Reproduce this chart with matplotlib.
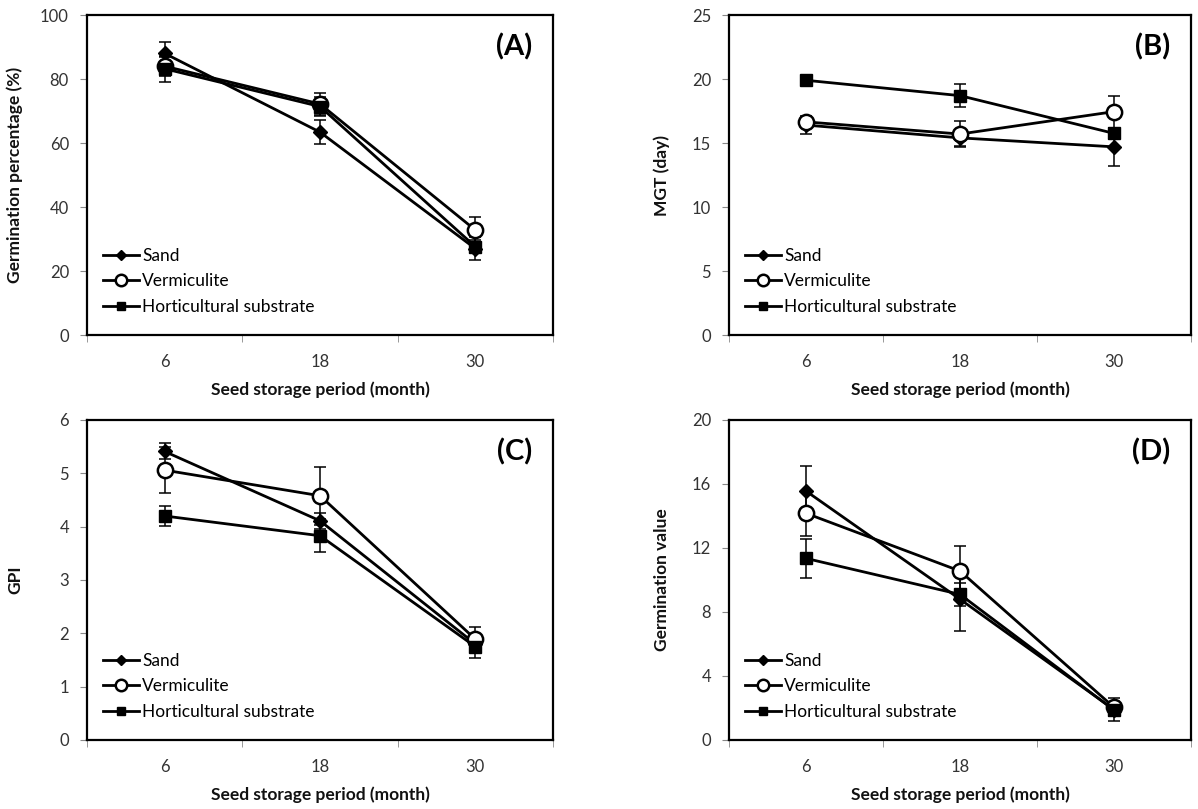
import matplotlib
matplotlib.use("Agg")
import matplotlib.pyplot as plt
import numpy as np

plt.rcParams['font.family'] = ['Lato', 'DejaVu Sans']

categories = ["6", "18", "30"]
series = ["Sand", "Vermiculite", "Horticultural substrate"]

# Panel A: Germination percentage (%)
gp_sand = [88.0, 63.4, 27.0]
gp_verm = [84.0, 72.2, 32.8]
gp_hort = [83.2, 71.4, 27.6]
gp_sand_err = [3.5, 3.8, 3.6]
gp_verm_err = [3.0, 3.4, 4.2]
gp_hort_err = [4.0, 3.0, 2.0]

# Panel B: MGT (day)
mgt_sand = [16.4, 15.4, 14.7]
mgt_verm = [16.65, 15.7, 17.45]
mgt_hort = [19.9, 18.7, 15.75]
mgt_sand_err = [0.7, 0.6, 1.5]
mgt_verm_err = [0.3, 1.0, 1.25]
mgt_hort_err = [0.2, 0.9, 0.4]

# Panel C: GPI
gpi_sand = [5.41, 4.11, 1.80]
gpi_verm = [5.06, 4.58, 1.89]
gpi_hort = [4.20, 3.83, 1.75]
gpi_sand_err = [0.15, 0.15, 0.15]
gpi_verm_err = [0.43, 0.54, 0.23]
gpi_hort_err = [0.18, 0.31, 0.22]

# Panel D: Germination value
gv_sand = [15.56, 8.8, 1.9]
gv_verm = [14.17, 10.56, 2.04]
gv_hort = [11.35, 9.1, 1.87]
gv_sand_err = [1.55, 1.97, 0.7]
gv_verm_err = [1.42, 1.55, 0.3]
gv_hort_err = [1.2, 0.7, 0.4]

panels = [
    dict(tag="(A)", ylabel="Germination percentage (%)", ylim=(0, 100), yticks=[0, 20, 40, 60, 80, 100],
         data=[(gp_sand, gp_sand_err), (gp_verm, gp_verm_err), (gp_hort, gp_hort_err)]),
    dict(tag="(B)", ylabel="MGT (day)", ylim=(0, 25), yticks=[0, 5, 10, 15, 20, 25],
         data=[(mgt_sand, mgt_sand_err), (mgt_verm, mgt_verm_err), (mgt_hort, mgt_hort_err)]),
    dict(tag="(C)", ylabel="GPI", ylim=(0, 6), yticks=[0, 1, 2, 3, 4, 5, 6],
         data=[(gpi_sand, gpi_sand_err), (gpi_verm, gpi_verm_err), (gpi_hort, gpi_hort_err)]),
    dict(tag="(D)", ylabel="Germination value", ylim=(0, 20), yticks=[0, 4, 8, 12, 16, 20],
         data=[(gv_sand, gv_sand_err), (gv_verm, gv_verm_err), (gv_hort, gv_hort_err)]),
]

W, H = 1198, 809
fig = plt.figure(figsize=(W / 100, H / 100), dpi=100)
rects = [(87, 15, 553, 335), (729, 15, 1191, 335), (87, 420, 553, 740), (729, 420, 1191, 740)]
ylabel_x = [23, 670, 23, 670]

styles = [
    dict(marker="D", markersize=7, markerfacecolor="black", markeredgecolor="black"),
    dict(marker="o", markersize=11, markerfacecolor="white", markeredgecolor="black", markeredgewidth=1.8),
    dict(marker="s", markersize=8, markerfacecolor="black", markeredgecolor="black"),
]

x = np.arange(1, len(categories) + 1)
for p, (l, t, r, b), ylx in zip(panels, rects, ylabel_x):
    ax = fig.add_axes([l / W, 1 - b / H, (r - l) / W, (b - t) / H])
    handles = []
    for (vals, errs), st, name in zip(p["data"], styles, series):
        ax.errorbar(x, vals, yerr=errs, fmt="none", ecolor="black", elinewidth=1.1, capsize=4, capthick=1.1, zorder=2)
        h, = ax.plot(x, vals, color="black", linewidth=2, label=name, zorder=3, **st)
        handles.append(h)
    ax.set_xlim(0.5, 3.5)
    ax.set_ylim(*p["ylim"])
    ax.set_yticks(p["yticks"])
    ax.set_xticks(x)
    ax.set_xticklabels(categories)
    ax.set_xticks([0.5, 1.5, 2.5, 3.5], minor=True)
    ax.tick_params(axis="x", which="major", length=0, pad=14, labelsize=12, colors="#333333")
    ax.tick_params(axis="x", which="minor", length=5, direction="out", color="#888888")
    ax.tick_params(axis="y", length=5, direction="out", labelsize=12, colors="#333333", color="#888888", pad=8)
    for s in ax.spines.values():
        s.set_linewidth(1.6)
        s.set_color("black")
    ax.set_xlabel("Seed storage period (month)", fontsize=12.5, fontweight="bold", labelpad=8, color="#111111")
    ax.set_ylabel(p["ylabel"], fontsize=12.5, fontweight="bold", color="#111111")
    ax.yaxis.set_label_coords((ylx - l) / (r - l), 0.5)
    ax.text(0.955, 0.9, p["tag"], transform=ax.transAxes, ha="right", va="center", fontsize=21, fontweight="bold")
    ax.legend(handles=handles, loc="lower left", frameon=False, fontsize=12.5, handlelength=2.1,
              handletextpad=0.15, labelspacing=0.55, markerscale=0.75, borderpad=0.0,
              borderaxespad=0.0, bbox_to_anchor=(16 / (r - l), 20 / (b - t)))

fig.savefig("out.png", dpi=100)
